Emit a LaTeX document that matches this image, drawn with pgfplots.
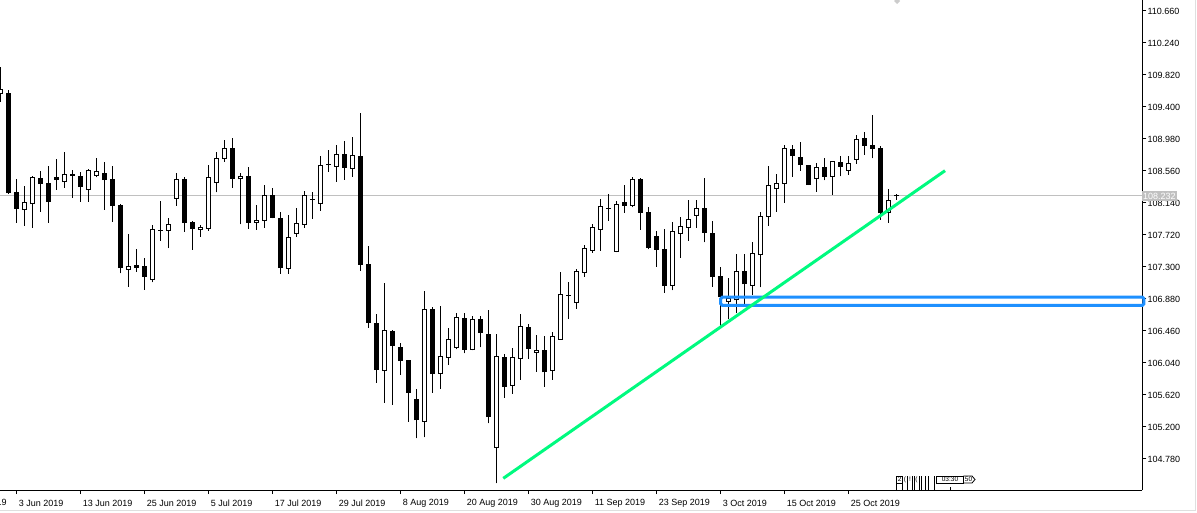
\documentclass[border=0pt]{standalone}
\usepackage{pgfplots}
\pgfplotsset{compat=1.18}
\usepackage{pgfplotstable}
\usepackage{fontspec}
\setmainfont{Liberation Sans}
\definecolor{dodger}{RGB}{30,144,255}
\definecolor{spring}{RGB}{0,250,127}
\definecolor{pricegray}{RGB}{192,192,192}

% bullish (white) candles: i = bar index, o h l c
\pgfplotstableread{
i o h l c
0 109.579 109.929 109.469 109.623
3 108.052 108.363 107.842 108.149
4 108.130 108.494 107.815 108.468
8 108.419 108.809 108.340 108.516
11 108.314 108.586 108.157 108.560
12 108.498 108.730 108.477 108.547
16 107.269 107.737 107.041 107.309
19 107.133 107.851 107.099 107.794
21 107.776 107.943 107.549 107.864
22 108.201 108.533 108.104 108.442
25 107.789 107.855 107.697 107.821
26 107.808 108.638 107.776 108.468
27 108.411 108.809 108.280 108.726
28 108.726 108.967 108.682 108.858
30 108.455 108.529 107.860 108.494
32 107.886 108.113 107.789 107.913
33 107.913 108.376 107.815 108.241
36 107.277 107.982 107.212 107.689
37 107.742 108.074 107.697 107.873
38 107.860 108.297 107.815 108.232
40 108.136 108.757 108.035 108.634
42 108.621 108.901 108.419 108.779
44 108.595 109.002 108.485 108.766
48 105.939 107.086 105.519 106.469
53 105.274 106.981 105.064 106.744
55 105.904 106.784 105.702 106.128
56 106.114 106.495 106.017 106.351
57 106.246 106.692 106.219 106.639
59 106.219 106.657 106.204 106.613
62 104.933 106.420 104.461 106.128
64 105.751 106.237 105.633 106.114
65 106.101 106.683 105.817 106.525
67 106.180 106.407 105.925 106.206
69 105.939 106.443 105.817 106.394
70 106.351 107.234 106.342 106.941
72 106.831 107.273 106.752 107.243
73 107.234 107.584 107.172 107.545
74 107.519 107.864 107.487 107.821
75 107.794 108.188 107.514 108.096
77 107.506 108.166 107.493 108.123
79 108.109 108.481 108.083 108.451
84 107.059 107.894 106.994 107.768
85 107.742 107.956 107.422 107.834
86 107.821 108.179 107.645 107.926
87 107.978 108.179 107.815 108.074
91 106.853 107.149 106.617 106.880
92 106.867 107.466 106.696 107.247
94 107.063 107.632 106.932 107.479
95 107.461 108.025 107.033 107.969
96 107.960 108.621 107.842 108.372
97 108.327 108.516 108.025 108.398
98 108.398 108.901 108.144 108.858
102 108.464 108.661 108.288 108.608
104 108.490 108.691 108.249 108.687
106 108.569 108.760 108.511 108.655
107 108.713 109.032 108.655 108.976
111 108.018 108.319 107.881 108.175
}\bull

% bearish (black) candles and dojis
\pgfplotstableread{
i o h l c
1 109.579 109.623 108.264 108.275
2 108.280 108.455 107.881 108.070
5 108.455 108.560 108.025 108.393
6 108.402 108.625 107.881 108.157
7 108.468 108.717 108.314 108.445
9 108.520 108.573 108.209 108.498
10 108.494 108.547 108.157 108.354
13 108.533 108.678 108.052 108.445
14 108.442 108.625 107.894 108.104
15 108.113 108.127 107.217 107.290
17 107.326 107.540 107.238 107.290
18 107.300 107.418 106.998 107.172
20 107.781 108.166 107.641 107.781
23 108.442 108.477 107.763 107.881
24 107.890 107.899 107.527 107.802
29 108.858 108.993 108.343 108.464
31 108.494 108.612 107.802 107.886
34 108.232 108.337 107.939 107.952
35 107.939 108.018 107.212 107.290
39 108.192 108.280 107.934 108.192
41 108.642 108.835 108.550 108.642
43 108.779 108.953 108.445 108.608
45 108.753 109.321 107.251 107.335
46 107.335 107.575 106.503 106.569
47 106.561 106.679 105.781 105.952
49 106.456 106.469 105.492 106.267
50 106.246 106.302 105.886 106.070
51 106.075 106.075 105.269 105.650
52 105.563 105.694 105.051 105.295
54 106.744 106.771 105.650 105.899
58 106.626 106.692 106.167 106.219
60 106.613 106.657 106.246 106.437
61 106.420 106.735 105.248 105.335
63 106.114 106.154 105.584 105.729
66 106.508 106.552 106.096 106.227
68 106.206 106.394 105.729 105.925
71 106.928 107.103 106.621 106.928
76 108.070 108.258 107.907 108.070
78 108.140 108.376 108.012 108.109
80 108.442 108.468 107.789 108.018
81 108.018 108.087 107.532 107.553
82 107.703 107.772 107.304 107.532
83 107.532 107.794 106.962 107.054
88 108.074 108.472 107.624 107.755
89 107.733 107.903 107.041 107.172
90 107.178 107.296 106.525 106.910
93 107.247 107.466 106.775 107.077
99 108.844 108.901 108.485 108.760
100 108.739 108.940 108.564 108.642
101 108.634 108.634 108.376 108.380
103 108.608 108.726 108.438 108.490
105 108.674 108.757 108.490 108.621
108 108.989 109.075 108.774 108.897
109 108.897 109.295 108.726 108.858
110 108.858 108.884 107.917 108.012
112 108.232 108.254 108.183 108.232
}\bear

\pgfplotsset{
  candlepart/.style={only marks, mark=*, mark size=0pt,
    mark options={draw=none, fill=none},
    error bars/.cd, y dir=plus, y explicit, error mark=none,
    error bar style={#1}},
}

\begin{document}
\begin{tikzpicture}[x=1pt,y=1pt]
\useasboundingbox (0,0) rectangle (1197,512);
\fill[white] (0,0) rectangle (1197,512);
\begin{axis}[
  at={(0pt,22pt)}, anchor=south west,
  width=1142.3pt, height=490pt, scale only axis,
  xmin=-0.0375, xmax=142.75, ymin=104.373, ymax=110.804,
  clip=false,
  axis x line=bottom, axis y line=right,
  axis line style={-, black, line width=1pt},
  tick style={black, line width=1pt},
  tick align=outside,
  major tick length=4pt,
  xtick={2,10,18,26,34,42,50,58,66,74,82,90,98,106},
  xticklabels={3 Jun 2019,13 Jun 2019,25 Jun 2019,5 Jul 2019,17 Jul 2019,29 Jul 2019,8 Aug 2019,20 Aug 2019,30 Aug 2019,11 Sep 2019,23 Sep 2019,3 Oct 2019,15 Oct 2019,25 Oct 2019},
  ytick={104.78,105.2,105.62,106.04,106.46,106.88,107.3,107.72,108.14,108.56,108.98,109.4,109.82,110.24,110.66},
  yticklabels={104.780,105.200,105.620,106.040,106.460,106.880,107.300,107.720,108.140,108.560,108.980,109.400,109.820,110.240,110.660},
  ticklabel style={font=\fontsize{9}{10}\selectfont, inner sep=0pt},
  xticklabel style={anchor=west, xshift=2.3pt, yshift=-9pt},
  yticklabel style={anchor=west, xshift=1pt},
  extra y ticks={108.232},
  extra y tick labels={108.232},
  extra y tick style={major tick length=0pt, yticklabel style={fill=pricegray, text=white, inner sep=1.5pt, xshift=-2pt}},
]
% current price line
\addplot[pricegray, line width=1pt] coordinates {(-1,108.232) (142.75,108.232)};
% wicks
\addplot[candlepart={black, line width=1pt}]
  table[x=i, y=l, y error expr=\thisrow{h}-\thisrow{l}] {\bull};
\addplot[candlepart={black, line width=1pt}]
  table[x=i, y=l, y error expr=\thisrow{h}-\thisrow{l}] {\bear};
% bear bodies
\addplot[candlepart={black, line width=5pt}]
  table[x=i, y expr=\thisrow{c}-0.0066, y error expr=\thisrow{o}-\thisrow{c}+0.0131] {\bear};
% bull bodies: outline then white fill
\addplot[candlepart={black, line width=5pt}]
  table[x=i, y expr=\thisrow{o}-0.0066, y error expr=\thisrow{c}-\thisrow{o}+0.0131] {\bull};
\addplot[candlepart={white, line width=3pt}]
  table[x=i, y expr=\thisrow{o}+0.0066, y error expr=\thisrow{c}-\thisrow{o}-0.0131] {\bull};
% rectangle zone
\addplot[dodger, line width=3pt, rounded corners=1.5pt] coordinates {(90.05,106.903) (142.96,106.903) (142.96,106.797) (90.05,106.797)} -- cycle;
% trend line
\addplot[spring, line width=3pt] coordinates {(62.875,104.526) (118.09,108.564)};
% partially visible first date label
\node[anchor=west, inner sep=0pt, font=\fontsize{9}{10}\selectfont] at (axis cs:-5.75,104.373) [yshift=-13pt] {22 May 2019};
\end{axis}
% small object labels near the time axis
\begin{scope}[line width=0.8pt, black]
  \draw (896.7,29) rectangle (902.7,36);
  \node[font=\fontsize{6.5}{7}\selectfont, inner sep=0pt] at (899.7,32.5) {2};
  \foreach \xx in {896.7,902.7,907.5,912,914.5,919.5,921,925,928,934} {\draw (\xx,22) -- (\xx,36);}
  \node[font=\fontsize{6.5}{7}\selectfont, inner sep=0pt] at (905,32.5) {(};
  \node[font=\fontsize{6.5}{7}\selectfont, inner sep=0pt] at (910,32.5) {!};
  \node[font=\fontsize{6.5}{7}\selectfont, inner sep=0pt] at (916.5,32.5) {(};
  \draw (936.7,29) rectangle (963.3,36);
  \node[font=\fontsize{6.5}{7}\selectfont, inner sep=0pt] at (950,32.5) {03:30};
  \draw (963.3,29) -- (972,29) -- (975,32.5) -- (972,36) -- (963.3,36);
  \node[font=\fontsize{6.5}{7}\selectfont, inner sep=0pt] at (968.5,32.5) {50};
  \draw (950.7,22) -- (950.7,25.3);
\end{scope}
\fill[gray!40] (897,514) -- (900,511) -- (897,508) -- (894,511) -- cycle;
% window borders
\draw[gray!25, line width=1pt] (0,1.5) -- (1195.5,1.5) -- (1195.5,512);
\end{tikzpicture}
\end{document}
